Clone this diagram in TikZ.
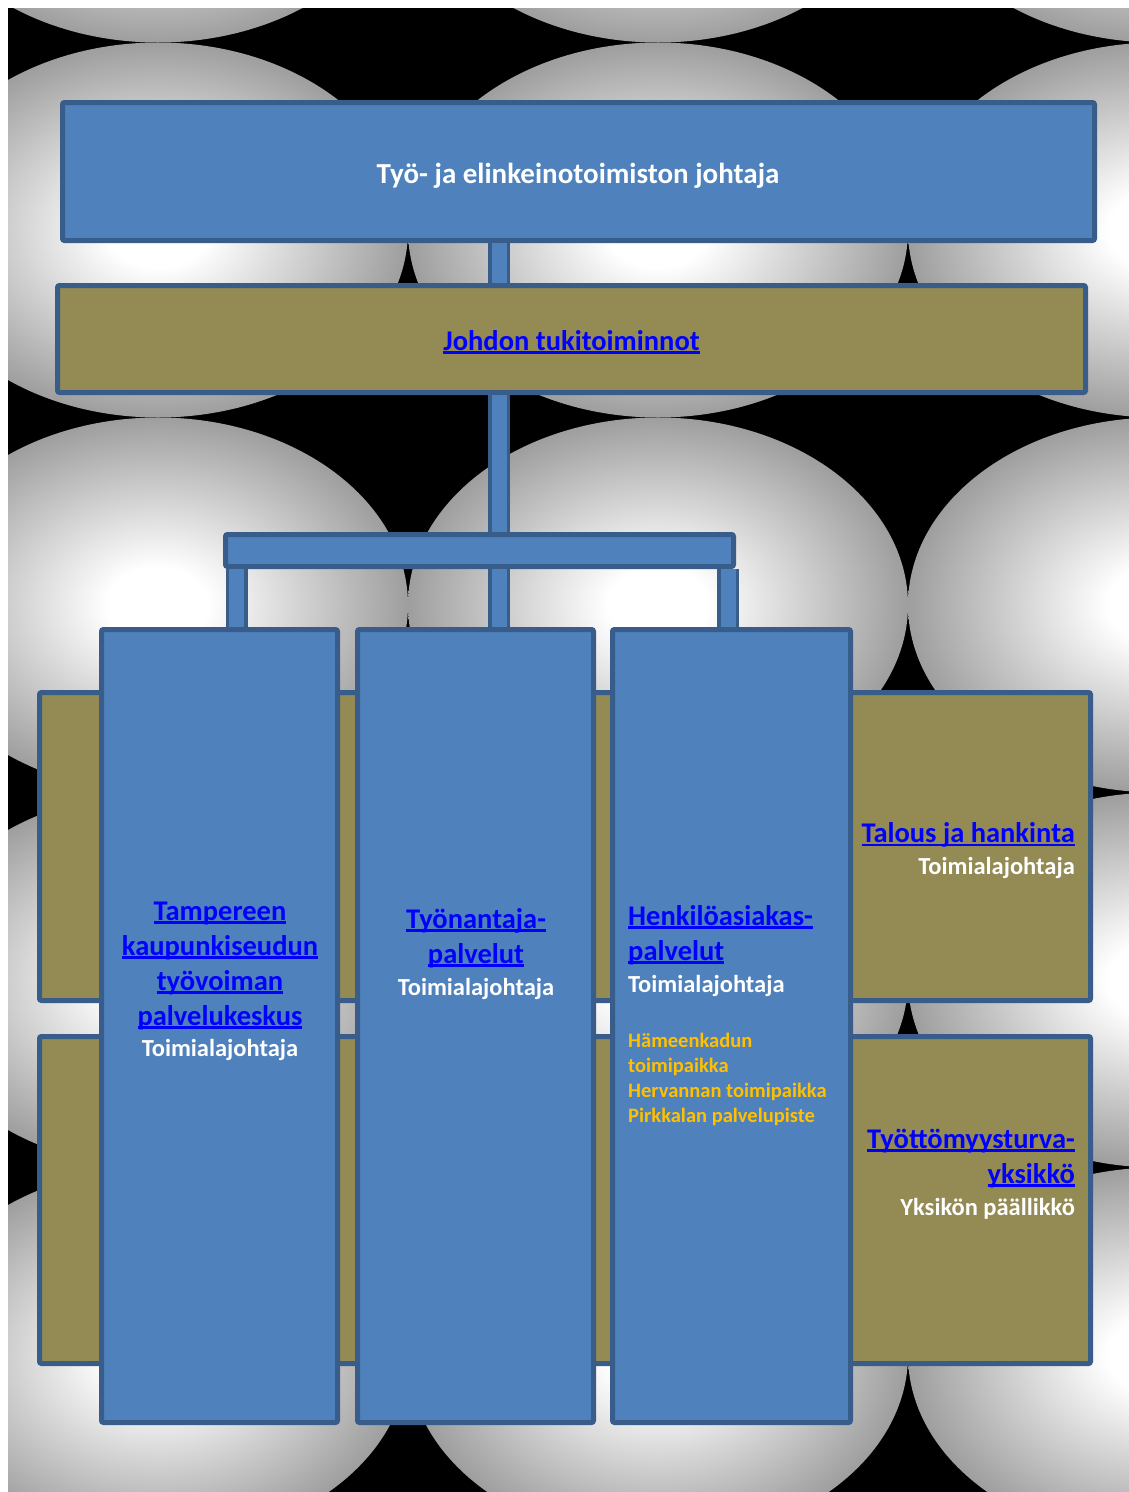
\documentclass[tikz,border=0pt]{standalone}
\usepackage{fontspec}
\setmainfont{Carlito}
\usepackage{tikz}
\usetikzlibrary{positioning, calc}
\definecolor{boxblue}{RGB}{79,129,189}
\definecolor{edgeblue}{RGB}{56,93,138}
\definecolor{boxtan}{RGB}{148,138,84}
\definecolor{linkblue}{RGB}{0,0,255}
\definecolor{siteyellow}{RGB}{255,192,0}
\pgfdeclareradialshading{bgball}{\pgfpoint{0bp}{0bp}}{color(0bp)=(white); color(5bp)=(white); color(25bp)=(black!38); color(50bp)=(black!38)}
\newcommand{\lnk}[1]{{\color{linkblue}\setbox0\hbox{#1}\rlap{\rule[-3.5pt]{\wd0}{2.5pt}}\box0}}
\newcommand{\roletext}[1]{{\color{white}\fontsize{24.5}{30}\selectfont #1}}
\tikzset{
  bluebox/.style={rectangle, draw=edgeblue, fill=boxblue, line width=5pt,
    rounded corners=2pt, inner sep=0pt},
  tanbox/.style={rectangle, draw=edgeblue, fill=boxtan, line width=5pt,
    rounded corners=2pt, inner sep=0pt},
  bar/.style={draw=edgeblue, line width=3.5pt, double=boxblue, double distance=15pt},
  headtext/.style={font=\bfseries\fontsize{29}{35}\selectfont, text=white, inner sep=0pt},
  linktext/.style={font=\bfseries\fontsize{28.5}{35}\selectfont, inner sep=0pt},
  sitetext/.style={font=\bfseries\fontsize{20.5}{25}\selectfont, text=siteyellow, inner sep=0pt}
}

\begin{document}
\begin{tikzpicture}[x=1pt, y=-1pt]
  % Background
  \useasboundingbox (0,0) rectangle (1129,1492);
  \fill[white] (0,0) rectangle (1129,1492);
  \fill[black] (8,8) rectangle (1129,1492);
  \begin{scope}
    \clip (8,8) rectangle (1129,1492);
    \foreach \cx in {158,658,1158}
      \foreach \cy in {-145,230,605,980,1355,1730}
        \shade[shading=bgball] (\cx,\cy) ellipse [x radius=250, y radius=187.5];
  \end{scope}

  % Boxes
  \node[bluebox, minimum width=1032pt, minimum height=138pt] (dir) at (578.5,171.5) {};
  \node[tanbox, minimum width=1028pt, minimum height=107pt] (sup) at (571.5,339) {};
  \node[tanbox, minimum width=1051pt, minimum height=308pt] (tal) at (565,846.5) {};
  \node[tanbox, minimum width=1051pt, minimum height=327pt] (tts) at (565,1200) {};
  \node[bluebox, minimum width=236pt, minimum height=793pt] (tre) at (219.5,1026) {};
  \node[bluebox, minimum width=236pt, minimum height=793pt] (tyo) at (475.5,1026) {};
  \node[bluebox, minimum width=238pt, minimum height=793pt] (hlo) at (731.5,1026) {};
  \node[bluebox, minimum width=508pt, minimum height=32pt] (hub) at (479.5,550.5) {};

  % Connectors
  \coordinate (xl) at (236.5,0);
  \coordinate (xm) at (499,0);
  \coordinate (xr) at (728,0);
  \draw[bar] (dir.south -| xm) -- (sup.north -| xm);
  \draw[bar] (sup.south -| xm) -- (hub.north -| xm);
  \draw[bar] (hub.south -| xl) -- (tre.north -| xl);
  \draw[bar] (hub.south -| xm) -- (tyo.north -| xm);
  \draw[bar] (hub.south -| xr) -- (hlo.north -| xr);

  % Texts
  \node[headtext] (dirt) at (578,176) {Työ- ja elinkeinotoimiston johtaja};
  \node[linktext] (supt) at (571.5,342) {\lnk{Johdon tukitoiminnot}};
  \node[linktext, align=center] (tret) at (220,981)
    {\lnk{Tampereen}\\ \lnk{kaupunkiseudun}\\ \lnk{työvoiman}\\ \lnk{palvelukeskus}\\[-4pt] \roletext{Toimialajohtaja}};
  \node[linktext, align=center] (tyot) at (476,954)
    {\lnk{Työnantaja-}\\ \lnk{palvelut}\\[-3pt] \roletext{Toimialajohtaja}};
  \node[linktext, align=left, anchor=west] (hlot) at (628,951)
    {\lnk{Henkilöasiakas-}\\ \lnk{palvelut}\\[-3pt] \roletext{Toimialajohtaja}};
  \node[sitetext, align=left, anchor=north west] (hlos) at (628,1033)
    {Hämeenkadun\\ toimipaikka\\ Hervannan toimipaikka\\ Pirkkalan palvelupiste};
  \node[linktext, align=right, anchor=east] (talt) at (1075,851)
    {\lnk{Talous ja hankinta}\\[-3pt] \roletext{Toimialajohtaja}};
  \node[linktext, align=right, anchor=east] (ttst) at (1075,1174)
    {\lnk{Työttömyysturva-}\\ \lnk{yksikkö}\\[-3pt] \roletext{Yksikön päällikkö}};
\end{tikzpicture}
\end{document}
